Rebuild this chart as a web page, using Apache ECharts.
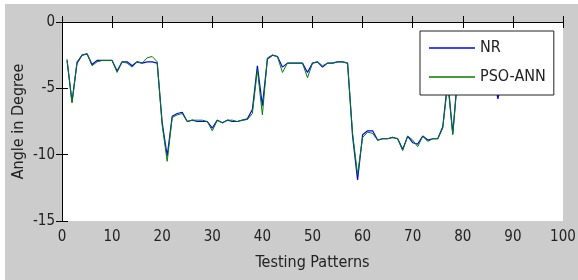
<!DOCTYPE html>
<html lang="en">

<head>
    <meta charset="UTF-8">
    <title>NR vs PSO-ANN</title>
    <script src="https://cdn.jsdelivr.net/npm/echarts@6/dist/echarts.min.js"></script>
    <style>
        body { margin: 0; background: #fff; }
        #main { position: absolute; left: 5px; top: 4px; width: 573px; height: 276px; }
    </style>
</head>

<body>
    <div id="main"></div>
</body>

<script>
    // testing pattern number (x)
    var patterns = [1, 2, 3, 4, 5, 6, 7, 8, 9, 10, 11, 12, 13, 14, 15, 16, 17, 18, 19, 20,
        21, 22, 23, 24, 25, 26, 27, 28, 29, 30, 31, 32, 33, 34, 35, 36, 37, 38, 39, 40,
        41, 42, 43, 44, 45, 46, 47, 48, 49, 50, 51, 52, 53, 54, 55, 56, 57, 58, 59, 60,
        61, 62, 63, 64, 65, 66, 67, 68, 69, 70, 71, 72, 73, 74, 75, 76, 77, 78, 79, 80,
        81, 82, 83, 84, 85, 86, 87, 88];

    // angle in degree
    var nr = [-2.9, -6.0, -3.1, -2.5, -2.4, -3.2, -2.9, -2.9, -2.9, -2.9, -3.7, -3.0, -3.0, -3.3, -3.0, -3.1, -3.0, -3.0, -3.1, -7.6,
        -10.1, -7.1, -6.9, -6.8, -7.5, -7.4, -7.5, -7.5, -7.5, -8.0, -7.4, -7.6, -7.4, -7.5, -7.5, -7.4, -7.3, -6.6, -3.3, -6.3,
        -2.8, -2.5, -2.6, -3.4, -3.1, -3.1, -3.1, -3.1, -3.8, -3.1, -3.0, -3.4, -3.1, -3.1, -3.0, -3.0, -3.1, -8.6, -11.9, -8.5,
        -8.2, -8.2, -8.9, -8.8, -8.8, -8.7, -8.8, -9.6, -8.6, -9.1, -9.2, -8.6, -8.9, -8.8, -8.8, -7.9, -4.4, -8.4, -3.9, -3.6,
        -3.4, -3.3, -3.3, -3.4, -3.3, -3.5, -5.8, -4.2];

    var psoAnn = [-2.8, -6.1, -3.0, -2.5, -2.4, -3.3, -3.0, -2.9, -2.9, -2.9, -3.8, -3.0, -3.1, -3.4, -3.0, -3.1, -2.7, -2.6, -3.0, -7.8,
        -10.5, -7.2, -7.0, -6.9, -7.5, -7.4, -7.4, -7.4, -7.5, -8.2, -7.4, -7.6, -7.4, -7.4, -7.5, -7.4, -7.35, -6.9, -3.6, -7.0,
        -2.7, -2.5, -2.6, -3.8, -3.1, -3.1, -3.1, -3.1, -4.2, -3.1, -3.0, -3.3, -3.1, -3.1, -3.0, -3.0, -3.1, -8.4, -11.5, -8.7,
        -8.3, -8.4, -8.9, -8.8, -8.8, -8.7, -8.8, -9.7, -8.6, -8.9, -9.4, -8.6, -9.0, -8.8, -8.8, -8.0, -4.6, -8.5, -4.0, -3.7,
        -3.5, -3.3, -3.4, -3.4, -3.3, -3.5, -5.2, -4.1];

    var font = '"DejaVu Sans Condensed", sans-serif';

    function pairs(ys) {
        return patterns.map(function (x, i) { return [x, ys[i]]; });
    }

    var axisBase = {
        axisLine: { show: true, lineStyle: { color: '#000', width: 1 } },
        axisTick: { show: true, inside: true, length: 6, lineStyle: { color: '#000' } },
        splitLine: { show: false }
    };

    var myChart = echarts.init(document.getElementById('main'));

    myChart.setOption({
        backgroundColor: '#cccccc',
        animation: false,
        grid: {
            left: 57, top: 18, width: 501, height: 199,
            containLabel: false, outerBoundsMode: 'none',
            backgroundColor: '#fff', show: true, borderWidth: 0
        },
        legend: {
            orient: 'vertical',
            left: 415,
            top: 27,
            padding: [7, 8, 8, 9],
            icon: 'rect',
            itemWidth: 46,
            itemHeight: 1.5,
            itemGap: 9,
            backgroundColor: '#fff',
            borderColor: '#222',
            borderWidth: 1,
            textStyle: { fontFamily: font, fontSize: 16, lineHeight: 20, color: '#222' },
            data: ['NR', 'PSO-ANN']
        },
        xAxis: [
            Object.assign({
                type: 'value', min: 0, max: 100, interval: 10,
                name: 'Testing Patterns', nameLocation: 'middle', nameGap: 34,
                nameMoveOverlap: false,
                nameTextStyle: { fontFamily: font, fontSize: 16, color: '#222' },
                axisLabel: { fontFamily: font, fontSize: 15, color: '#222', margin: 9 }
            }, axisBase),
            Object.assign({
                type: 'value', min: 0, max: 100, interval: 10, position: 'top',
                axisLabel: { show: false }
            }, axisBase)
        ],
        yAxis: [
            Object.assign({
                type: 'value', min: -15, max: 0, interval: 5,
                name: 'Angle in Degree', nameLocation: 'middle', nameGap: 35,
                nameMoveOverlap: false,
                nameTextStyle: { fontFamily: font, fontSize: 16, color: '#222' },
                axisLabel: { fontFamily: font, fontSize: 15, color: '#222', margin: 7 }
            }, axisBase),
            Object.assign({
                type: 'value', min: -15, max: 0, interval: 5, position: 'right',
                axisLabel: { show: false }
            }, axisBase)
        ],
        series: [
            {
                name: 'NR', type: 'line', symbol: 'none',
                data: pairs(nr),
                lineStyle: { color: '#0000ff', width: 1.2 },
                itemStyle: { color: '#0000ff' }
            },
            {
                name: 'PSO-ANN', type: 'line', symbol: 'none',
                data: pairs(psoAnn),
                lineStyle: { color: '#008000', width: 1 },
                itemStyle: { color: '#008000' }
            }
        ]
    });
</script>

</html>
